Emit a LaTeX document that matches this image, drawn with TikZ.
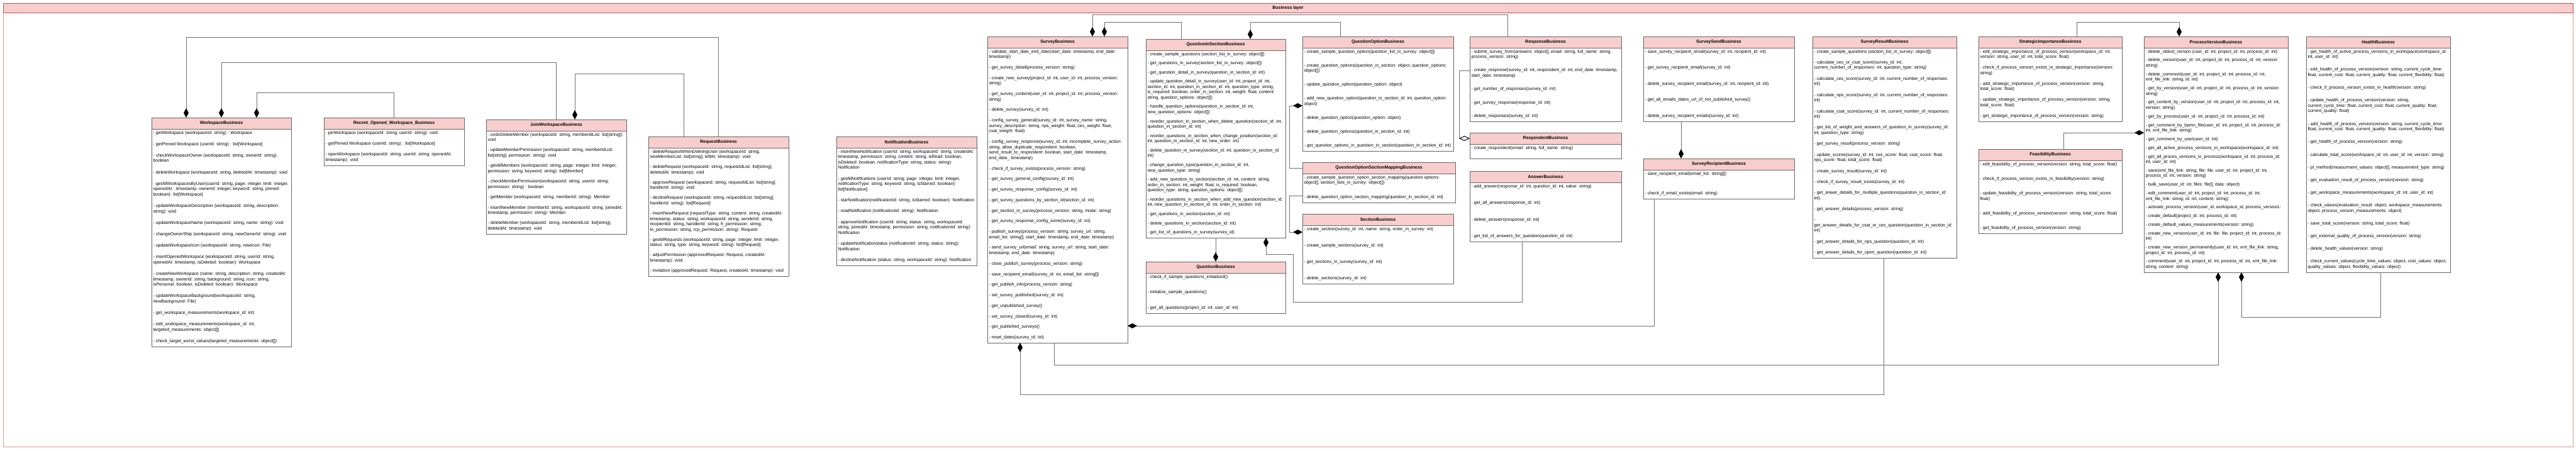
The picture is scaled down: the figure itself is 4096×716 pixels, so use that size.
\documentclass[tikz,border=0pt]{standalone}
\usepackage{fontspec}
\setmainfont{Liberation Sans}
\usetikzlibrary{arrows.meta}
\definecolor{hdrpink}{HTML}{F8CECC}
\definecolor{hdrred}{HTML}{B85450}
\definecolor{boxgray}{HTML}{666666}
\definecolor{linegray}{HTML}{707070}
\newcommand{\nx}{\par\vfill}
\newcommand{\mlist}[3]{\parbox[t][#2][s]{#1}{\raggedright\vspace*{3pt}#3\par\vspace*{5pt}}}

\begin{document}
\begin{tikzpicture}[x=1pt,y=-1pt]
\tikzset{layer/.style = {draw=hdrred!60,line width=0.8pt,inner sep=0pt,outer sep=0pt,anchor=north west}}
\tikzset{title/.style = {draw=hdrred,fill=hdrpink,line width=0.8pt,inner sep=0pt,outer sep=0pt,anchor=north west,font=\bfseries\fontsize{7}{8.6}\selectfont}}
\tikzset{head/.style = {draw=boxgray,fill=hdrpink,line width=0.8pt,minimum height=18pt,inner sep=0pt,outer sep=0pt,anchor=north west,font=\bfseries\fontsize{7}{8.6}\selectfont}}
\tikzset{body/.style = {draw=boxgray,fill=white,line width=0.8pt,inner xsep=2.5pt,inner ysep=0pt,outer sep=0pt,anchor=north west,font=\fontsize{7}{8.6}\selectfont}}
\tikzset{comp/.style = {draw=linegray,line width=1pt,-{Diamond[length=15pt,width=8pt,color=black]}}}
\tikzset{aggr/.style = {draw=linegray,line width=1pt,-{Diamond[open,length=17pt,width=8pt,color=black,fill=white]}}}
\useasboundingbox (0,0) rectangle (4096,716);
% layer
\node[layer,minimum width=4086pt,minimum height=705pt] (frame) at (5,5) {};
\node[title,minimum width=4086pt,minimum height=15pt] (titlebar) at (5,5) {Business layer};
% classes
\node[head,minimum width=222pt] (wsh) at (241,187) {WorkspaceBusiness};
\node[body] (ws) at (wsh.south west) {\mlist{217pt}{346pt}{%
- getWorkspace (workspaceId: string) : Workspace\nx
- getPinned Workspace (userId: string) : list[Workspace]\nx
- checkWorkspaceOwner (workspaceId: string, ownerId: string):\newline boolean\nx
- deleteWorkspace (workspaceId: string, deletedAt: timestamp): void\nx
- getAllWorkspacesByUser(userId: string, page: integer, limit: integer,\newline openedAt : timestamp, ownerId: integer, keyword: string, pinned:\newline boolean): list[Workspace]\nx
- updateWorkspaceDescription (workspaceId: string, description:\newline string): void\nx
- updateWorkspaceName (workspaceId: string, name: string): void\nx
- changeOwnerShip (workspaceId: string, newOwnerId: string): void\nx
- updateWorkspaceIcon (workspaceId: string, newIcon: File)\nx
- insertOpenedWorkspace (workspaceId: string, userId: string,\newline openedAt: timestamp, isDeleted: boolean): Workspace\nx
- createNewWorkspace (name: string, description: string, createdAt:\newline timestamp, ownerId: string, background: string, icon: string,\newline isPersonal: boolean, isDeleted: boolean): Workspace\nx
- updateWorkspaceBackground(workspaceId: string,\newline newBackground: File)\nx
- get\_workspace\_measurements(workspace\_id: int)\nx
- edit\_workspace\_measurements(workspace\_id: int,\newline targeted\_measurements: object[])\nx
- check\_target\_worst\_values(targeted\_measurements: object[])}};
\node[head,minimum width=223pt] (rech) at (515,187) {Recent\_Opened\_Workspace\_Business};
\node[body] (rec) at (rech.south west) {\mlist{218pt}{58pt}{%
- pinWorkspace (workspaceId: string, userId: string): void\nx
- getPinned Workspace (userId: string) : list[Workspace]\nx
- openWorkspace (workspaceId: string, userId: string, openedAt:\newline timestamp): void}};
\node[head,minimum width=223pt] (joinh) at (773,190) {JoinWorkspaceBusiness};
\node[body] (join) at (joinh.south west) {\mlist{218pt}{164pt}{%
- undoDeleteMember (workspaceId: string, memberIdList: list[string]):\newline void\nx
- updateMemberPermission (workspaceId: string, memberIdList:\newline list[string], permission: string): void\nx
- getAllMembers (workspaceId: string, page: integer, limit: integer,\newline permission: string, keyword: string): list[Member]\nx
- checkMemberPermission(workspaceId: string, userId: string,\newline permission: string) : boolean\nx
- getMember (workspaceId: string, memberId: string): Member\nx
- insertNewMember (memberId: string, workspaceId: string, joinedAt:\newline timestamp, permission: string): Member\nx
- deleteMember (workspaceId: string, memberIdList: list[string],\newline deletedAt: timestamp): void}};
\node[head,minimum width=223pt] (reqh) at (1031,217) {RequestBusiness};
\node[body] (req) at (reqh.south west) {\mlist{218pt}{204pt}{%
- deleteRequestWhenDeletingUser (workspaceId: string,\newline newMemberList: list[string], leftAt: timestamp): void\nx
- deleteRequest (workspaceId: string, requestIdList: list[string],\newline deletedAt: timestamp): void\nx
- approveRequest (workspaceId: string, requestIdList: list[string],\newline handlerId: string): void\nx
- declineRequest (workspaceId: string, requestIdList: list[string],\newline handlerId: string): list[Request]\nx
- insertNewRequest (requestType: string, content: string, createdAt:\newline timestamp, status: string, workspaceId: string, senderId: string,\newline recipientId: string, handlerId: string, fr\_permission: string,\newline to\_permission: string, rcp\_permission: string): Request\nx
- getAllRequests (workspaceId: string, page: integer, limit: integer,\newline status: string, type: string, keyword: string): list[Request]\nx
- adjustPermission (approvedRequest: Request, createdAt:\newline timestamp): void\nx
- invitation (approvedRequest: Request, createdAt: timestamp): void}};
\node[head,minimum width=223pt] (notih) at (1330,217) {NotificationBusiness};
\node[body] (noti) at (notih.south west) {\mlist{218pt}{187pt}{%
- insertNewNotification (userId: string, workspaceId: string, createdAt:\newline timestamp, permission: string, content: string, isRead: boolean,\newline isDeleted: boolean, notificationType: string, status: string):\newline Notification\nx
- getAllNotifications (userId: string, page: integer, limit: integer,\newline notificationType: string, keyword: string, isStarred: boolean):\newline list[Notification]\nx
- starNotification(notificationId: string, isStarred: boolean): Notification\nx
- readNotification (notificationId: string): Notification\nx
- approveNotification (userId: string, status: string, workspaceId:\newline string, joinedAt: timestamp, permission: string, notificationId: string):\newline Notification\nx
- updateNotificationstatus (notificationId: string, status: string):\newline Notification\nx
- declineNotification (status: string, workspaceId: string): Notification}};
\node[head,minimum width=223pt] (surh) at (1570,58) {SurveyBusiness};
\node[body] (sur) at (surh.south west) {\mlist{218pt}{469pt}{%
- validate\_start\_date\_end\_date(start\_date: timestamp, end\_date:\newline timestamp)\nx
- get\_survey\_detail(process\_version: string)\nx
- create\_new\_survey(project\_id: int, user\_id: int, process\_version:\newline string)\nx
- get\_survey\_content(user\_id: int, project\_id: int, process\_version:\newline string)\nx
- delete\_survey(survey\_id: int)\nx
- config\_survey\_general(survey\_id: int, survey\_name: string,\newline survey\_description: string, nps\_weight: float, ces\_weight: float,\newline csat\_weight: float)\nx
- config\_survey\_response(survey\_id: int, incomplete\_survey\_action:\newline string, allow\_duplicate\_respondent: boolean,\newline send\_result\_to\_respondent: boolean, start\_date: timestamp,\newline end\_date\_ timestamp)\nx
- check\_if\_survey\_exists(process\_version: string)\nx
- get\_survey\_general\_config(survey\_id: int)\nx
- get\_survey\_response\_config(survey\_id: int)\nx
- get\_survey\_questions\_by\_section\_id(section\_id: int)\nx
- get\_section\_in\_survey(process\_version: string, mode: string)\nx
- get\_survey\_response\_config\_some(survey\_id: int)\nx
- publish\_survey(process\_version: string, survey\_url: string,\newline email\_list: string[], start\_date: timestamp, end\_date: timestamp)\nx
- send\_survey\_url(email: string, survey\_url: string, start\_date:\newline timestamp, end\_date: timestamp)\nx
- close\_publish\_survey(process\_version: string)\nx
- save\_recipient\_email(survey\_id: int, email\_list: string[])\nx
- get\_publish\_info(process\_version: string)\nx
- set\_survey\_published(survey\_id: int)\nx
- get\_unpublished\_survey()\nx
- set\_survey\_closed(survey\_id: int)\nx
- get\_published\_surveys()\nx
- reset\_dates(survey\_id: int)}};
\node[head,minimum width=222pt] (qish) at (1822,62) {QuestionInSectionBusiness};
\node[body] (qis) at (qish.south west) {\mlist{217pt}{298pt}{%
- create\_sample\_questions (section\_list\_in\_survey: object[])\nx
- get\_questions\_in\_survey(section\_list\_in\_survey: object[])\nx
- get\_question\_detail\_in\_survey(question\_in\_section\_id: int)\nx
- update\_question\_detail\_in\_survey(user\_id: int, project\_id: int,\newline section\_id: int, question\_in\_section\_id: int, question\_type: string,\newline is\_required: boolean, order\_in\_section: int, weight: float, content:\newline string, question\_options: object[])\nx
- handle\_question\_options(question\_in\_section\_id: int,\newline new\_question\_options: object[])\nx
- reorder\_question\_in\_section\_when\_delete\_question(section\_id: int,\newline question\_in\_section\_id: int)\nx
- reorder\_questions\_in\_section\_when\_change\_position(section\_id:\newline int, question\_in\_section\_id: int, new\_order: int)\nx
- delete\_question\_in\_survey(section\_id: int, question\_in\_section\_id:\newline int)\nx
- change\_question\_type(question\_in\_section\_id: int,\newline new\_question\_type: string)\nx
- add\_new\_question\_to\_section(section\_id: int, content: string,\newline order\_in\_section: int, weight: float, is\_required: boolean,\newline question\_type: string, question\_options: object[])\nx
- reorder\_questions\_in\_section\_when\_add\_new\_question(section\_id:\newline int, new\_question\_in\_section\_id: int, order\_in\_section: int)\nx
- get\_questions\_in\_section(section\_id: int)\nx
- delete\_questions\_in\_section(section\_id: int)\nx
- get\_list\_of\_questions\_in\_survey(survey\_id)}};
\node[head,minimum width=240pt] (qoh) at (2071,58) {QuestionOptionBusiness};
\node[body] (qo) at (qoh.south west) {\mlist{235pt}{164pt}{%
- create\_sample\_question\_option(question\_list\_in\_survey: object[])\nx
- create\_question\_options(question\_in\_section: object, question\_options:\newline object[])\nx
- update\_question\_option(question\_option: object)\nx
- add\_new\_question\_option(question\_in\_section\_id: int, question\_option:\newline object)\nx
- delete\_question\_option(question\_option: object)\nx
- delete\_question\_options(question\_in\_section\_id: int)\nx
- get\_question\_options\_in\_question\_in\_section(question\_in\_section\_id: int)}};
\node[head,minimum width=243pt] (qosmh) at (2071,258) {QuestionOptionSectionMappingBusiness};
\node[body] (qosm) at (qosmh.south west) {\mlist{238pt}{46pt}{%
- create\_sample\_question\_option\_section\_mapping(question options:\newline object[], section\_lists\_in\_survey: object[])\nx
- delete\_question\_option\_section\_mapping(question\_in\_section\_id: int)}};
\node[head,minimum width=240pt] (sech) at (2071,340) {SectionBusiness};
\node[body] (sec) at (sech.south west) {\mlist{235pt}{93pt}{%
- create\_section(survey\_id: int, name: string, order\_in\_survey: int)\nx
- create\_sample\_sections(survey\_id: int)\nx
- get\_sections\_in\_survey(survey\_id: int)\nx
- delete\_sections(survey\_id: int)}};
\node[head,minimum width=222pt] (queh) at (1822,416) {QuestionBusiness};
\node[body] (que) at (queh.south west) {\mlist{217pt}{64pt}{%
- check\_if\_sample\_questions\_initialized()\nx
- initialize\_sample\_questions()\nx
- get\_all\_questions(project\_id: int, user\_id: int)}};
\node[head,minimum width=241pt] (resph) at (2337,58) {ResponseBusiness};
\node[body] (resp) at (resph.south west) {\mlist{236pt}{117pt}{%
- submit\_survey\_form(answers: object[], email: string, full\_name: string,\newline process\_version: string)\nx
- create\_response(survey\_id: int, respondent\_id: int, end\_date: timestamp,\newline start\_date: timestamp)\nx
- get\_number\_of\_responses(survey\_id: int)\nx
- get\_survey\_response(response\_id: int)\nx
- delete\_responses(survey\_id: int)}};
\node[head,minimum width=241pt] (rsdh) at (2337,211) {RespondentBusiness};
\node[body] (rsd) at (rsdh.south west) {\mlist{236pt}{23pt}{%
- create\_respondent(email: string, full\_name: string)\vfill}};
\node[head,minimum width=241pt] (ansh) at (2337,272) {AnswerBusiness};
\node[body] (ans) at (ansh.south west) {\mlist{236pt}{94pt}{%
- add\_answer(response\_id: int, question\_id: int, value: string)\nx
- get\_all\_answers(response\_id: int)\nx
- delete\_answers(response\_id: int)\nx
- get\_list\_of\_answers\_for\_question(question\_id: int)}};
\node[head,minimum width=240pt] (sendh) at (2613,58) {SurveySendBusiness};
\node[body] (send) at (sendh.south west) {\mlist{235pt}{117pt}{%
- save\_survey\_recipient\_email(survey\_id: int, recipient\_id: int)\nx
- get\_survey\_recipient\_email(survey\_id: int)\nx
- delete\_survey\_recipient\_email(survey\_id: int, recipient\_id: int)\nx
- get\_all\_emails\_dates\_url\_of\_not\_published\_survey()\nx
- delete\_survey\_recipient\_emails(survey\_id: int)}};
\node[head,minimum width=240pt] (rcph) at (2613,252) {SurveyRecipientBusiness};
\node[body] (rcp) at (rcph.south west) {\mlist{235pt}{46pt}{%
- save\_recipient\_email(email\_list: string[])\nx
- check\_if\_email\_exists(email: string)}};
\node[head,minimum width=229pt] (resh) at (2882,58) {SurveyResultBusiness};
\node[body] (res) at (resh.south west) {\mlist{224pt}{334pt}{%
- create\_sample\_questions (section\_list\_in\_survey: object[])\nx
- calculate\_ces\_or\_csat\_score(survey\_id: int,\newline current\_number\_of\_responses: int, question\_type: string)\nx
- calculate\_ces\_score(survey\_id: int, current\_number\_of\_responses:\newline int)\nx
- calculate\_nps\_score(survey\_id: int, current\_number\_of\_responses:\newline int)\nx
- calculate\_csat\_score(survey\_id: int, current\_number\_of\_responses:\newline int)\nx
- get\_list\_of\_weight\_and\_answers\_of\_question\_in\_survey(survey\_id:\newline int, question\_type: string)\nx
- get\_survey\_result(process\_version: string)\nx
- update\_scores(survey\_id: int, ces\_score: float, csat\_score: float,\newline nps\_score: float, total\_score: float)\nx
- create\_survey\_result(survey\_id: int)\nx
- check\_if\_survey\_result\_exists(survey\_id: int)\nx
- get\_anwer\_details\_for\_multiple\_questions(question\_in\_section\_id:\newline int)\nx
- get\_answer\_details(process\_version: string)\nx
-\newline get\_answer\_details\_for\_csat\_or\_ces\_question(question\_in\_section\_id:\newline int)\nx
- get\_answer\_details\_for\_nps\_question(question\_id: int)\nx
- get\_answer\_details\_for\_open\_question(question\_id: int)}};
\node[head,minimum width=228pt] (strh) at (3146,58) {StrategicImportanceBusiness};
\node[body] (str) at (strh.south west) {\mlist{223pt}{117pt}{%
- edit\_strategic\_importance\_of\_process\_version(workspace\_id: int,\newline version: string, user\_id: int, total\_score: float)\nx
- check\_if\_process\_version\_exists\_in\_strategic\_importance(version:\newline string)\nx
- add\_strategic\_importance\_of\_process\_version(version: string,\newline total\_score: float)\nx
- update\_strategic\_importance\_of\_process\_version(version: string,\newline total\_score: float)\nx
- get\_strategic\_importance\_of\_process\_version(version: string)}};
\node[head,minimum width=228pt] (feah) at (3146,237) {FeasibilityBusiness};
\node[body] (fea) at (feah.south west) {\mlist{223pt}{116pt}{%
- edit\_feasibility\_of\_process\_version(version: string, total\_score: float)\nx
- check\_if\_process\_version\_exists\_in\_feasibility(version: string)\nx
- update\_feasibility\_of\_process\_version(version: string, total\_score:\newline float)\nx
- add\_feasibility\_of\_process\_version(version: string, total\_score: float)\nx
- get\_feasibility\_of\_process\_version(version: string)}};
\node[head,minimum width=229pt] (pvh) at (3409,58) {ProcessVersionBusiness};
\node[body] (pv) at (pvh.south west) {\mlist{224pt}{357pt}{%
- delete\_oldest\_version (user\_id: int, project\_id: int, process\_id: int)\nx
- delete\_version(user\_id: int, project\_id: int, process\_id: int, version:\newline string)\nx
- delete\_comment(user\_id: int, project\_id: int, process\_id: int,\newline xml\_file\_link: string, id: int)\nx
- get\_by\_version(user\_id: int, project\_id: int, process\_id: int, version:\newline string)\nx
- get\_content\_by\_version(user\_id: int, project\_id: int, process\_id: int,\newline version: string)\nx
- get\_by\_process(user\_id: int, project\_id: int, process\_id: int)\nx
- get\_comment\_by\_bpmn\_file(user\_id: int, project\_id: int, process\_id:\newline int, xml\_file\_link: string)\nx
- get\_comment\_by\_user(user\_id: int)\nx
- get\_all\_active\_process\_versions\_in\_workspace(workspace\_id: int)\nx
- get\_all\_proces\_versions\_in\_process(workspace\_id: int, process\_id:\newline int, user\_id: int)\nx
- save(xml\_file\_link: string, file: file, user\_id: int, project\_id: int,\newline process\_id: int, version: string)\nx
- bulk\_save(user\_id: int, files: file[], data: object)\nx
- edit\_comment(user\_id: int, project\_id: int, process\_id: int,\newline xml\_file\_link: string, id: int, content: string)\nx
- activate\_process\_version(user\_id, workspace\_id, process\_versionL:\nx
- create\_default(project\_id: int, process\_id: int)\nx
- create\_default\_values\_measurements(version: string)\nx
- create\_new\_version(user\_id: int, file: file, project\_id: int, process\_id:\newline int)\nx
- create\_new\_version\_permanently(user\_id: int, xml\_file\_link: string,\newline project\_id: int, process\_id: int)\nx
- comment(user\_id: int, project\_id: int, process\_id: int, xml\_file\_link:\newline string, content: string)}};
\node[head,minimum width=229pt] (heah) at (3667,58) {HealthBusiness};
\node[body] (hea) at (heah.south west) {\mlist{224pt}{357pt}{%
- get\_health\_of\_active\_process\_versions\_in\_workspace(workspace\_id:\newline int, user\_id: int)\nx
- edit\_health\_of\_process\_version(version: string, current\_cycle\_time:\newline float, current\_cost: float, current\_quality: float, current\_flexibility: float)\nx
- check\_if\_process\_version\_exists\_in\_health(version: string)\nx
- update\_health\_of\_process\_version(version: string,\newline current\_cycle\_time: float, current\_cost: float, current\_quality: float,\newline current\_quality: float)\nx
- add\_health\_of\_process\_version(version: string, current\_cycle\_time:\newline float, current\_cost: float, current\_quality: float, current\_flexibility: float)\nx
- get\_health\_of\_process\_version(version: string)\nx
- calculate\_total\_score(workspace\_id: int, user\_id: int, version: string)\nx
- pl\_method(measurment\_values: object[], measurement\_type: string)\nx
- get\_evaluation\_result\_of\_process\_version(version: string)\nx
- get\_workspace\_measurements(workspace\_id: int, user\_id: int)\nx
- check\_values(evaluation\_result: object, workspace\_measurements:\newline object, process\_version\_measurements: object)\nx
- save\_total\_score(version: string, total\_score: float)\nx
- get\_external\_quality\_of\_process\_version(version: string)\nx
- delete\_health\_values(version: string)\nx
- check\_current\_values(cycle\_time\_values: object, cost\_values: object,\newline quality\_values: object, flexibility\_values: object)}};
% edges
\draw[comp] (reqh.north) -- ++(0,-158) -| ([xshift=55pt]wsh.north west);
\draw[comp] (joinh.north) -- ++(0,-91) -| ([xshift=111pt]wsh.north west);
\draw[comp] (rech.north) -- ++(0,-40) -| ([xshift=167pt]wsh.north west);
\draw[comp] ([xshift=56pt]reqh.north west) -- ++(0,-100) -| ([xshift=141pt]joinh.north west);
\draw[comp] ([xshift=60pt]resph.north west) -- ++(0,-35) -| ([xshift=167pt]surh.north west);
\draw[comp] ([xshift=56pt]qish.north west) -- ++(0,-27) -| ([xshift=186pt]surh.north west);
\draw[comp] ([xshift=60pt]qoh.north west) -- ++(0,-23) -| ([xshift=166pt]qish.north west);
\draw[comp] (qosmh.west) -- ++(-21,0) |- ([yshift=-110pt]qoh.north west);
\draw[comp] ([yshift=-35pt]qosm.north west) -- ++(-21,0) |- ([yshift=-11pt]sec.north west);
\draw[comp] (qis.south) -- (queh.north);
\draw[comp] ([xshift=83pt]ans.south west) -- ++(0,96) -| ++(-364,-76) -| ([xshift=191pt]qis.south west);
\draw[aggr] ([yshift=-36pt]resp.north west) -- ++(-17,0) |- (rsdh.west);
\draw[comp] ([xshift=60pt]send.south west) -- ([xshift=60pt]rcph.north west);
\draw[comp] ([xshift=17pt]rcp.south west) |- ([yshift=-442pt]sur.north east);
\draw[comp] ([xshift=113pt]res.south west) -- ++(0,217) -| ([xshift=52pt]sur.south west);
\draw[comp] ([xshift=106pt]sur.south west) -- ++(0,35) -| ([xshift=118pt]pv.south west);
\draw[comp] ([xshift=118pt]hea.south west) -- ++(0,71) -| ([xshift=155pt]pv.south west);
\draw[comp] ([xshift=156pt]strh.north west) -- ++(0,-23) -| ([xshift=56pt]pvh.north west);
\draw[comp] ([xshift=135pt]feah.north west) |- ([yshift=-135pt]pv.north west);
\end{tikzpicture}
\end{document}
